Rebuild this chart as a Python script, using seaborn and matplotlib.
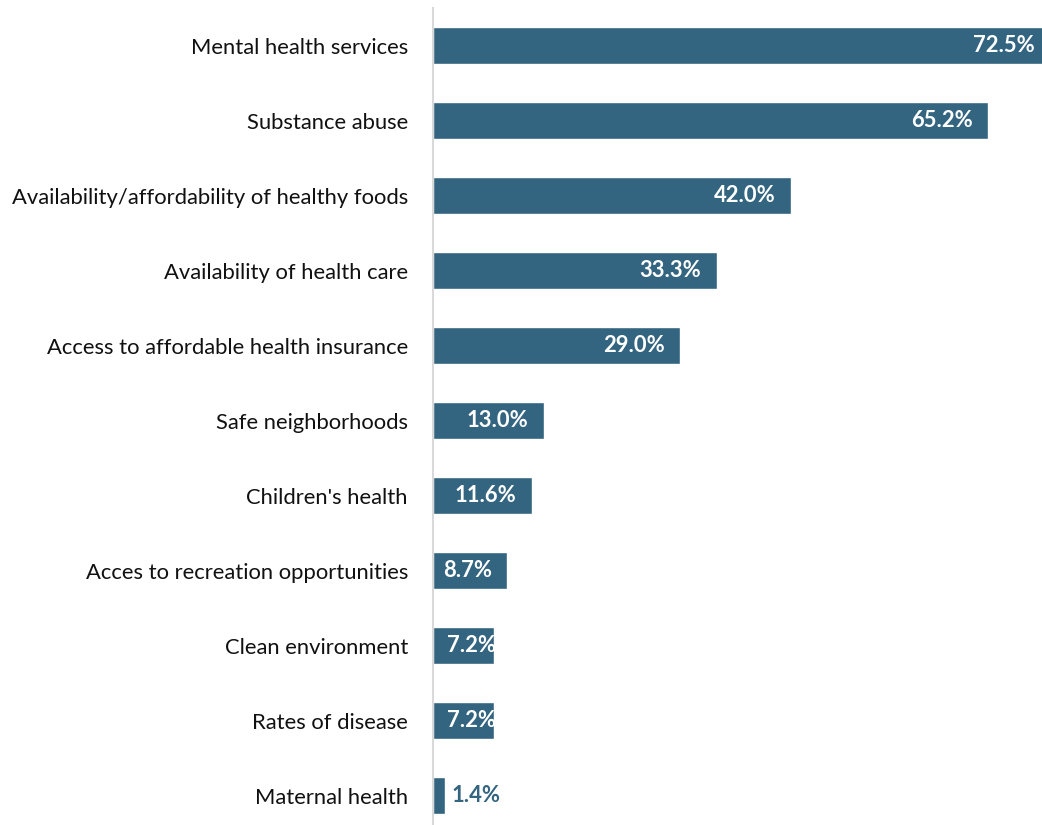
import pandas as pd
import matplotlib.pyplot as plt
import seaborn as sns

categories = ["Mental health services", "Substance abuse",
              "Availability/affordability of healthy foods", "Availability of health care",
              "Access to affordable health insurance", "Safe neighborhoods",
              "Children's health", "Acces to recreation opportunities",
              "Clean environment", "Rates of disease", "Maternal health"]
values = [72.5, 65.2, 42.0, 33.3, 29.0, 13.0, 11.6, 8.7, 7.2, 7.2, 1.4]

df = pd.DataFrame({"Category": categories, "Percent": values})

sns.set_style("white")
plt.rcParams['font.family'] = ['Lato', 'DejaVu Sans']
bar_color = "#336480"
fs = 15.8

fig = plt.figure(figsize=(10.42, 8.25), dpi=100)
ax = fig.add_axes([0.4155, 0.0, 0.5845, 0.9903])

sns.barplot(data=df, x="Percent", y="Category", color=bar_color, saturation=1,
            width=0.5, orient="h", ax=ax)

ax.set_xlim(0, 71.5)
ax.set_ylim(10.39, -0.5)
ax.set_xlabel("")
ax.set_ylabel("")
ax.set_xticks([])
ax.tick_params(axis="y", length=0, pad=18, labelsize=fs, labelcolor="#111111")
for s in ["top", "right", "bottom"]:
    ax.spines[s].set_visible(False)
ax.spines["left"].set_color("#d9d9d9")
ax.spines["left"].set_linewidth(1.5)

for i, v in enumerate(values):
    txt = f"{v:.1f}%"
    if v < 3:
        ax.annotate(txt, (v, i), xytext=(5, 0), textcoords="offset points",
                    ha="left", va="center", color=bar_color, fontsize=fs, fontweight="bold")
    elif v < 8:
        ax.annotate(txt, (0, i), xytext=(10, 0), textcoords="offset points",
                    ha="left", va="center", color="white", fontsize=fs, fontweight="bold")
    else:
        ax.annotate(txt, (v, i), xytext=(-11, 0), textcoords="offset points",
                    ha="right", va="center", color="white", fontsize=fs, fontweight="bold",
                    annotation_clip=False)

fig.savefig("out.png", dpi=100)
